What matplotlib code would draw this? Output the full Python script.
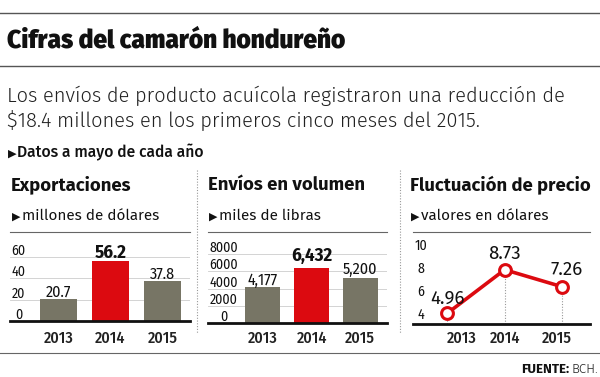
import matplotlib
matplotlib.use('Agg')
import matplotlib.pyplot as plt

FONT = ['Fira Sans', 'DejaVu Sans']
NUM = ['Fira Sans Condensed', 'DejaVu Sans']
plt.rcParams['font.family'] = FONT

years = ['2013', '2014', '2015']
exports = [20.7, 56.2, 37.8]
export_labels = ['20.7', '56.2', '37.8']
export_ticks = [0, 20, 40, 60]
volume = [4177, 6432, 5200]
volume_labels = ['4,177', '6,432', '5,200']
volume_ticks = [0, 2000, 4000, 6000, 8000]
price = [4.96, 8.73, 7.26]
price_labels = ['4.96', '8.73', '7.26']
price_ticks = [4, 6, 8, 10]

OLIVE = '#777565'
RED = '#dc0a10'
W, H = 600, 377

fig = plt.figure(figsize=(6, 3.77), dpi=100)


def fx(x):
    return x / W


def fy(y):
    return 1 - y / H


def hline(y, x0=0, x1=W, color='#555555', lw=1.0):
    fig.add_artist(plt.Line2D([fx(x0), fx(x1)], [fy(y), fy(y)], color=color, lw=lw))


def vline(x, y0, y1):
    fig.add_artist(plt.Line2D([fx(x), fx(x)], [fy(y0), fy(y1)], color='#999999', lw=0.8, ls=(0, (1, 1.5))))


def bullet(x, y, text, size, gap, weight='normal'):
    fig.text(fx(x), fy(y), '▶', fontsize=size * 0.72, color='#111111', va='baseline', family=['DejaVu Sans'])
    fig.text(fx(x + gap), fy(y), text, fontsize=size, fontweight=weight, color='#111111', va='baseline')


def panel_axes(x0, x1, ybase, ytop=232):
    ax = fig.add_axes([fx(x0), fy(ybase), (x1 - x0) / W, (ybase - ytop) / H])
    for s in ['left', 'right']:
        ax.spines[s].set_visible(False)
    ax.spines['top'].set_color('#666666')
    ax.spines['top'].set_linewidth(0.8)
    ax.spines['bottom'].set_color('#111111')
    ax.spines['bottom'].set_linewidth(2)
    ax.set_xticks([])
    ax.set_yticks([])
    ax.patch.set_alpha(0)
    return ax


# header
hline(13)
fig.text(fx(7), fy(47), 'Cifras del camarón hondureño', fontsize=17.7, fontweight=900, color='#111111', va='baseline')
hline(65.5)
fig.text(fx(7), fy(102), 'Los envíos de producto acuícola registraron una reducción de', fontsize=14.5,
         fontweight=300, color='#222222', va='baseline')
fig.text(fx(7), fy(126), '$18.4 millones en los primeros cinco meses del 2015.', fontsize=14.5,
         fontweight=300, color='#222222', va='baseline')
bullet(8, 157, 'Datos a mayo de cada año', 11.3, 9, 500)

vline(197, 170, 333)
vline(400, 170, 333)


def bar_panel(x0, x1, ybase, ymax, values, labels, ticks, tick_x, offs, title, tx, sub):
    ax = panel_axes(x0, x1, ybase)
    ax.set_ylim(0, ymax)
    for t in ticks[1:]:
        ax.axhline(t, color='#cccccc', lw=0.6, zorder=0)
    colors = [OLIVE, RED, OLIVE]
    ax.bar(range(3), values, width=0.72, color=colors, zorder=2)
    for i, (v, lab) in enumerate(zip(values, labels)):
        bold = i == 1
        ax.annotate(lab, (i, v), xytext=(0, offs[i]), textcoords='offset pixels', ha='center', va='baseline',
                    fontsize=13.5 if bold else 11.5, fontweight='bold' if bold else 'normal', family=NUM,
                    color='#111111')
        ax.annotate(years[i], (i, 0), xycoords=('data', 'axes fraction'), xytext=(0, ybase - 343),
                    textcoords='offset pixels', ha='center', va='baseline', fontsize=11.5, fontweight=500,
                    family=NUM, color='#222222')
    for t in ticks:
        ax.annotate(str(t), (tick_x, t), xycoords=('axes fraction', 'data'), xytext=(0, 2), textcoords='offset pixels',
                    ha='center', va='baseline', fontsize=10, family=NUM, color='#111111')
    fig.text(fx(tx), fy(190.5), title, fontsize=13.3, fontweight='bold', color='#111111', va='baseline')
    bullet(tx + 1, 220, sub, 11, 10)
    return ax


ax1 = bar_panel(10, 190, 321, 83.5, exports, export_labels, export_ticks, 0.047, [2, 3, 2],
                'Exportaciones', 11, 'millones de dólares')
ax1.set_xlim(-0.93, 2.53)

ax2 = bar_panel(208, 387, 323.3, 10540, volume, volume_labels, volume_ticks, 0.087, [2, 7, 4],
                'Envíos en volumen', 208, 'miles de libras')
ax2.set_xlim(-1.13, 2.55)

# price line panel
ax3 = panel_axes(413, 590, 324.3)
ax3.set_ylim(4, 12)
ax3.set_xlim(-0.6, 2.49)
ax3.vlines(range(3), 4, price, colors='#999999', lw=0.8, linestyles=(0, (1, 1.5)), zorder=1)
ax3.plot(range(3), price, color=RED, lw=2.6, marker='o', markersize=8.5, markerfacecolor='white',
         markeredgecolor=RED, markeredgewidth=2.2, zorder=3, clip_on=False)
price_offs = [(0, 9), (0, 11), (5, 12)]
year_x = [0.25, 1.0, 1.91]
for i, (v, lab) in enumerate(zip(price, price_labels)):
    ax3.annotate(lab, (i, v), xytext=price_offs[i], textcoords='offset pixels', ha='center', va='baseline',
                 fontsize=13.5, color='#111111', zorder=4)
    ax3.annotate(years[i], (year_x[i], 0), xycoords=('data', 'axes fraction'), xytext=(0, 324.3 - 343),
                 textcoords='offset pixels', ha='center', va='baseline', fontsize=11.5, fontweight=500,
                 family=NUM, color='#222222')
for t in price_ticks:
    ax3.annotate(str(t), (0.045, t), xycoords=('axes fraction', 'data'), xytext=(0, 5), textcoords='offset pixels',
                 ha='center', va='baseline', fontsize=10, family=NUM, color='#111111')
fig.text(fx(410), fy(190.5), 'Fluctuación de precio', fontsize=13.3, fontweight='bold', color='#111111',
         va='baseline')
bullet(411, 220, 'valores en dólares', 11, 10)

# footer
hline(353, color='#666666', lw=0.8)
src = fig.text(fx(598), fy(373), 'BCH.', fontsize=9.5, fontweight=300, color='#222222', ha='right', va='baseline')
renderer = fig.canvas.get_renderer()
bb = src.get_window_extent(renderer)
fig.text(bb.x0 / W - fx(2), fy(373), 'FUENTE:', fontsize=9.5, fontweight='bold', color='#111111', ha='right',
         va='baseline')

fig.savefig('out.png', dpi=100)
